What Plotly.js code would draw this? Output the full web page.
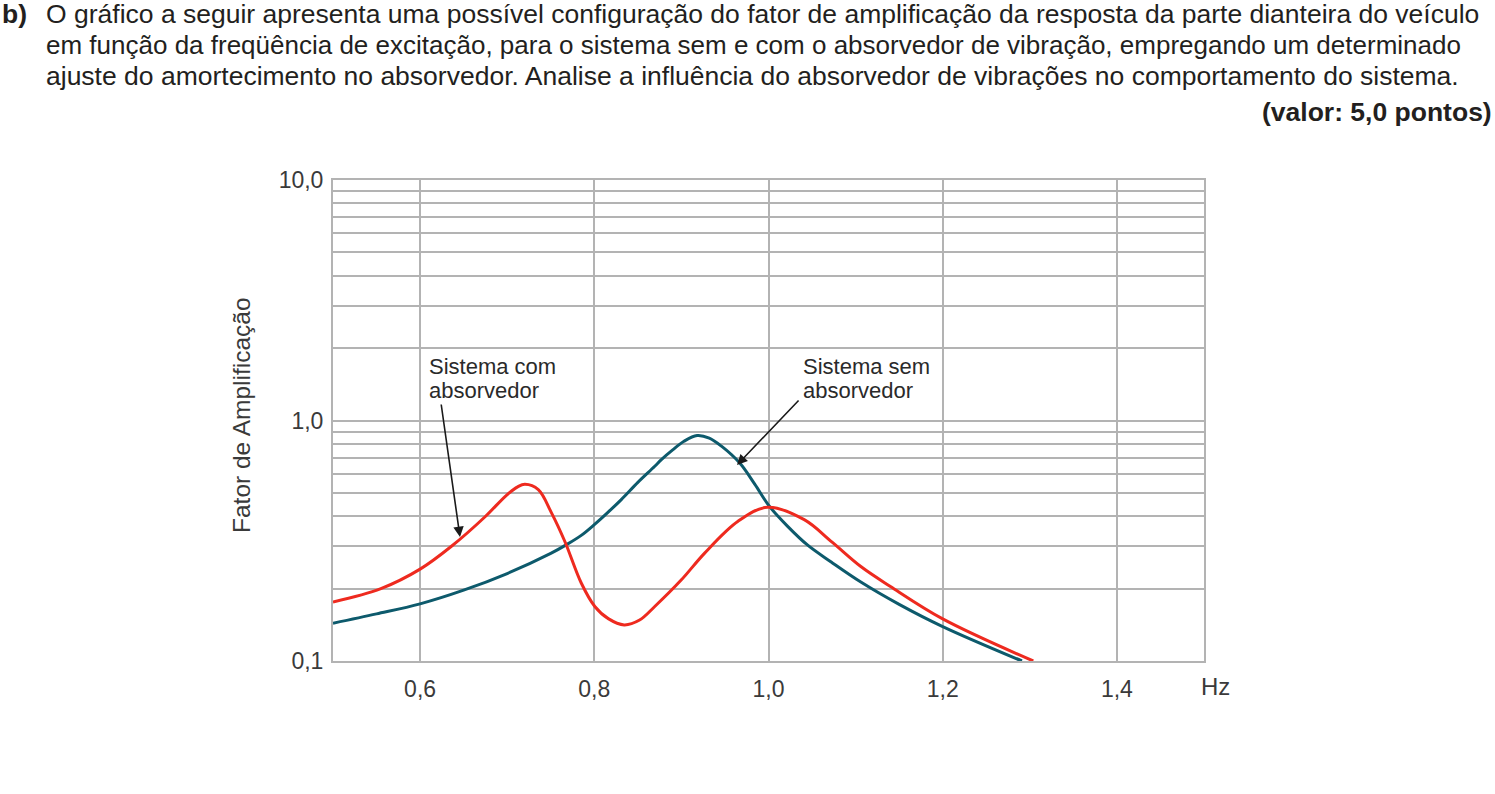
<!DOCTYPE html>
<html>
<head>
<meta charset="utf-8">
<script src="https://cdn.plot.ly/plotly-3.0.1.min.js"></script>
<style>
html,body{margin:0;padding:0;background:#fff;}
#chart{width:1495px;height:794px;}
</style>
</head>
<body>
<div id="chart"></div>
<script>
// Sistema sem absorvedor (blue)
const semX = [0.50, 0.55, 0.60, 0.65, 0.70, 0.75, 0.767, 0.785, 0.80, 0.815, 0.831, 0.85, 0.8694, 0.877, 0.89, 0.903, 0.918, 0.932, 0.946, 0.967, 0.984, 1.001, 1.022, 1.045, 1.072, 1.106, 1.15, 1.20, 1.291];
const semY = [0.1436, 0.157, 0.1728, 0.197, 0.231, 0.280, 0.303, 0.333, 0.369, 0.413, 0.469, 0.553, 0.645, 0.688, 0.755, 0.820, 0.866, 0.845, 0.782, 0.665, 0.545, 0.440, 0.363, 0.303, 0.258, 0.213, 0.172, 0.139, 0.100];

// Sistema com absorvedor (red)
const comX = [0.50, 0.555, 0.60, 0.636, 0.6746, 0.6994, 0.712, 0.7204, 0.7357, 0.751, 0.7662, 0.785, 0.8006, 0.816, 0.8343, 0.852, 0.8694, 0.90, 0.9267, 0.965, 0.999, 1.041, 1.073, 1.106, 1.14, 1.20, 1.304];
const comY = [0.176, 0.200, 0.241, 0.300, 0.398, 0.490, 0.530, 0.543, 0.516, 0.412, 0.314, 0.211, 0.1685, 0.150, 0.1413, 0.148, 0.1685, 0.2175, 0.281, 0.381, 0.436, 0.387, 0.312, 0.247, 0.204, 0.1496, 0.100];

const xTickVals = [0.6, 0.8, 1.0, 1.2, 1.4];
const xTickText = ['0,6', '0,8', '1,0', '1,2', '1,4'];
const yTickVals = [0.1,0.2,0.3,0.4,0.5,0.6,0.7,0.8,0.9,1,2,3,4,5,6,7,8,9,10];
const yTickText = ['0,1','','','','','','','','','1,0','','','','','','','','','10,0'];

const headerLines = [
  'O gráfico a seguir apresenta uma possível configuração do fator de amplificação da resposta da parte dianteira do veículo',
  'em função da freqüência de excitação, para o sistema sem e com o absorvedor de vibração, empregando um determinado',
  'ajuste do amortecimento no absorvedor. Analise a influência do absorvedor de vibrações no comportamento do sistema.'
];
const headerSizes = [26.5, 26.0, 26.5];

const gridColor = '#b3b3b3';
const txtFont = 'Liberation Sans, Arial, sans-serif';
const chartFont = 'Liberation Sans, Arial, sans-serif';

const traces = [
  {x: semX, y: semY, type: 'scatter', mode: 'lines', name: 'Sistema sem absorvedor',
   line: {color: '#0d5a6c', width: 3, shape: 'spline', smoothing: 1}},
  {x: comX, y: comY, type: 'scatter', mode: 'lines', name: 'Sistema com absorvedor',
   line: {color: '#ee2a1f', width: 3, shape: 'spline', smoothing: 1}}
];

const L = 333, T = 180, W = 871, H = 481;
function px(p){ return (p - L) / W; }
function py(p){ return (T + H - p) / H; }

const annotations = [];
annotations.push({xref:'paper', yref:'paper', x:px(0), y:py(14), xanchor:'left', yanchor:'middle', showarrow:false,
  text:'<b>b)</b>', font:{family:txtFont, size:26.5, color:'#231f20'}});
headerLines.forEach((t,i)=>{
  annotations.push({xref:'paper', yref:'paper', x:px(44), y:py(14 + i*31), xanchor:'left', yanchor:'middle', showarrow:false,
    text:t, font:{family:txtFont, size:headerSizes[i], color:'#231f20'}});
});
annotations.push({xref:'paper', yref:'paper', x:px(1494), y:py(112), xanchor:'right', yanchor:'middle', showarrow:false,
  text:'<b>(valor: 5,0 pontos)</b>', font:{family:txtFont, size:26.5, color:'#231f20'}});

annotations.push({xref:'paper', yref:'paper', x:px(241), y:py(415), xanchor:'center', yanchor:'middle', showarrow:false,
  textangle:-90, text:'Fator de Amplificação', font:{family:chartFont, size:24.5, color:'#3a3a3a'}});
annotations.push({xref:'paper', yref:'paper', x:px(1199), y:py(686), xanchor:'left', yanchor:'middle', showarrow:false,
  text:'Hz', font:{family:chartFont, size:24, color:'#3a3a3a'}});

const labelFont = {family:chartFont, size:22, color:'#2a2a2a'};
annotations.push({xref:'paper', yref:'paper', x:px(427), y:py(366), xanchor:'left', yanchor:'middle', showarrow:false,
  text:'Sistema com', font:labelFont});
annotations.push({xref:'paper', yref:'paper', x:px(427), y:py(390), xanchor:'left', yanchor:'middle', showarrow:false,
  text:'absorvedor', font:labelFont});
annotations.push({xref:'paper', yref:'paper', x:px(801), y:py(366), xanchor:'left', yanchor:'middle', showarrow:false,
  text:'Sistema sem', font:labelFont});
annotations.push({xref:'paper', yref:'paper', x:px(801), y:py(390), xanchor:'left', yanchor:'middle', showarrow:false,
  text:'absorvedor', font:labelFont});

annotations.push({xref:'paper', yref:'paper', x:px(460), y:py(537), ax:441-460, ay:403-537, text:'', showarrow:true,
  arrowhead:2, arrowsize:1.3, arrowwidth:1.6, arrowcolor:'#1a1a1a', standoff:0});
annotations.push({xref:'paper', yref:'paper', x:px(737), y:py(465), ax:800-737, ay:399-465, text:'', showarrow:true,
  arrowhead:2, arrowsize:1.3, arrowwidth:1.6, arrowcolor:'#1a1a1a', standoff:0});

const layout = {
  width:1495, height:794,
  margin:{l:L, r:1495-L-W, t:T, b:794-T-H, pad:0},
  paper_bgcolor:'#ffffff', plot_bgcolor:'#ffffff',
  showlegend:false,
  xaxis:{range:[0.5,1.5], tickvals:xTickVals, ticktext:xTickText, showgrid:true, gridcolor:gridColor, gridwidth:2,
    zeroline:false, showline:true, linecolor:gridColor, linewidth:2, mirror:true, ticks:'outside', ticklen:6, tickcolor:'rgba(0,0,0,0)',
    tickfont:{family:chartFont, size:23, color:'#3a3a3a'}},
  yaxis:{type:'log', range:[-1,1], tickvals:yTickVals, ticktext:yTickText, showgrid:true, gridcolor:gridColor, gridwidth:2,
    zeroline:false, showline:true, linecolor:gridColor, linewidth:2, mirror:true, ticks:'outside', ticklen:3, tickcolor:'rgba(0,0,0,0)',
    tickfont:{family:chartFont, size:23, color:'#3a3a3a'}},
  annotations: annotations
};

Plotly.newPlot('chart', traces, layout, {displayModeBar:false, staticPlot:true});
</script>
</body>
</html>
